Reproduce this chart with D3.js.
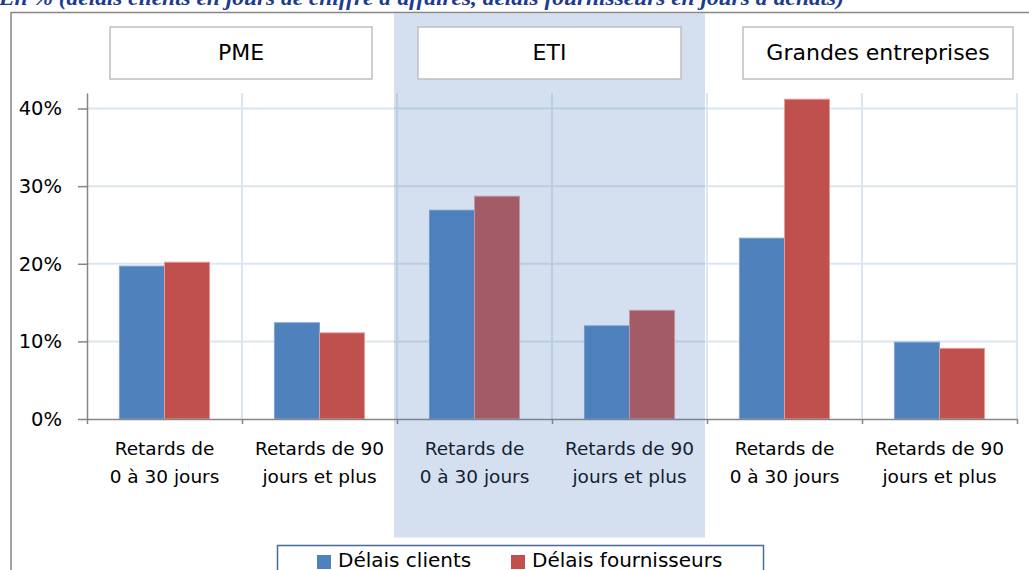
<!DOCTYPE html>
<html>
<head>
<meta charset="utf-8">
<script src="https://cdn.jsdelivr.net/npm/d3@7"></script>
<style>
  body { margin: 0; background: #fff; }
  svg { display: block; }
  text { font-family: "DejaVu Sans", sans-serif; fill: #000; }
</style>
</head>
<body>
<svg id="chart" width="1029" height="570"></svg>
<script>
// data (in %)
let categories = ['c1', 'c2', 'c3', 'c4', 'c5', 'c6'];
let tickLabels = [
  ['Retards de', '0 à 30 jours'],
  ['Retards de 90', 'jours et plus'],
  ['Retards de', '0 à 30 jours'],
  ['Retards de 90', 'jours et plus'],
  ['Retards de', '0 à 30 jours'],
  ['Retards de 90', 'jours et plus']
];
let groups = ['PME', 'ETI', 'Grandes entreprises'];
let seriesNames = ['Délais clients', 'Délais fournisseurs'];
let clients = [19.7, 12.4, 26.9, 12.0, 23.3, 9.9];
let fournisseurs = [20.2, 11.1, 28.7, 14.0, 41.2, 9.1];
let yTicks = [0, 10, 20, 30, 40];
let title = "En % (délais clients en jours de chiffre d'affaires, délais fournisseurs en jours d'achats)";

let colors = { 'Délais clients': '#4f81bd', 'Délais fournisseurs': '#c0504d' };
let strokes = { 'Délais clients': '#7ea3d3', 'Délais fournisseurs': '#e39c9a' };

let svg = d3.select('#chart');
let plot = { left: 87, right: 1017, top: 93, bottom: 419 };

let x = d3.scaleBand().domain(categories).range([plot.left, plot.right]).paddingInner(0).paddingOuter(0);
let xs = d3.scaleBand().domain(seriesNames).range([0, x.bandwidth()]).paddingInner(0).paddingOuter(0.72);
let xEdge = d3.scaleLinear().domain([0, categories.length]).range([plot.left, plot.right]);
let y = d3.scaleLinear().domain([0, 42]).range([plot.bottom, plot.top]);

// title, cut at the top edge
svg.append('text').attr('x', -1).attr('y', 5)
  .attr('textLength', 845).attr('lengthAdjust', 'spacingAndGlyphs')
  .style('font-family', '"Liberation Serif", serif')
  .style('font-style', 'italic').style('font-weight', 'bold')
  .style('font-size', '20px').style('fill', '#203a8f')
  .text(title);

// outer frame
svg.append('line').attr('x1', 11).attr('x2', 1029).attr('y1', 12.5).attr('y2', 12.5)
  .attr('stroke', '#868686').attr('stroke-width', 1.5);
svg.append('line').attr('x1', 11).attr('x2', 11).attr('y1', 12).attr('y2', 570)
  .attr('stroke', '#868686').attr('stroke-width', 1.5);

// gridlines
svg.append('g').selectAll('line').data(yTicks.filter(d => d > 0)).join('line')
  .attr('x1', plot.left).attr('x2', plot.right)
  .attr('y1', d => y(d)).attr('y2', d => y(d))
  .attr('stroke', '#dce6f2').attr('stroke-width', 2);
svg.append('g').selectAll('line').data(d3.range(1, categories.length + 1)).join('line')
  .attr('x1', d => xEdge(d)).attr('x2', d => xEdge(d))
  .attr('y1', plot.top).attr('y2', plot.bottom)
  .attr('stroke', '#dce6f2').attr('stroke-width', 2);

// bars
let rows = categories.map((c, i) => ({ cat: c, values: [
  { name: seriesNames[0], v: clients[i] },
  { name: seriesNames[1], v: fournisseurs[i] }
] }));

let cat_g = svg.append('g').selectAll('g').data(rows).join('g')
  .attr('transform', d => 'translate(' + x(d.cat) + ',0)');
cat_g.selectAll('rect').data(d => d.values).join('rect')
  .attr('x', d => xs(d.name)).attr('width', xs.bandwidth())
  .attr('y', d => y(d.v)).attr('height', d => y(0) - y(d.v))
  .attr('fill', d => colors[d.name])
  .attr('stroke', d => strokes[d.name]).attr('stroke-width', 1);

// y axis
let yAxis = svg.append('g').attr('transform', 'translate(' + plot.left + ',0)')
  .call(d3.axisLeft(y).tickValues(yTicks).tickFormat(d => d + '%').tickSize(9).tickSizeOuter(0).tickPadding(16));
yAxis.select('.domain').attr('stroke', '#868686').attr('stroke-width', 1.5);
yAxis.selectAll('.tick line').attr('stroke', '#868686').attr('stroke-width', 1.5);
yAxis.selectAll('.tick text').style('font-size', '19.5px').style('font-family', '"DejaVu Sans", sans-serif').attr('fill', '#000');

// x axis (ticks on category edges)
let xAxis = svg.append('g').attr('transform', 'translate(0,' + plot.bottom + ')')
  .call(d3.axisBottom(xEdge).tickValues(d3.range(0, categories.length + 1)).tickFormat('').tickSize(5).tickSizeOuter(0));
xAxis.select('.domain').attr('stroke', '#868686').attr('stroke-width', 1.5);
xAxis.selectAll('.tick line').attr('stroke', '#868686').attr('stroke-width', 1.5);

let xl = svg.append('g').selectAll('text').data(categories).join('text')
  .attr('x', d => x(d) + x.bandwidth() / 2)
  .attr('y', 455)
  .attr('text-anchor', 'middle')
  .style('font-size', '18.5px');
xl.append('tspan').attr('x', d => x(d) + x.bandwidth() / 2).text((d, i) => tickLabels[i][0]);
xl.append('tspan').attr('x', d => x(d) + x.bandwidth() / 2).attr('dy', 28).text((d, i) => tickLabels[i][1]);

// ETI highlight band
svg.append('rect')
  .attr('x', x(categories[2]) - 3).attr('width', 2 * x.bandwidth() + 1)
  .attr('y', 13.5).attr('height', 524)
  .attr('fill', '#4f81bd').attr('fill-opacity', 0.245);

// group header boxes
let headerBox = [
  { x0: 110, x1: 372 },
  { x0: 418, x1: 681 },
  { x0: 743, x1: 1013 }
];
let hdr = svg.append('g').selectAll('g').data(groups).join('g');
hdr.append('rect')
  .attr('x', (d, i) => headerBox[i].x0).attr('width', (d, i) => headerBox[i].x1 - headerBox[i].x0)
  .attr('y', 27).attr('height', 52)
  .attr('fill', '#fff').attr('stroke', '#bfbfbf').attr('stroke-width', 1.5);
hdr.append('text')
  .attr('x', (d, i) => (headerBox[i].x0 + headerBox[i].x1) / 2)
  .attr('y', 60).attr('text-anchor', 'middle')
  .style('font-size', '22px')
  .text(d => d);

// legend
let lg = svg.append('g');
lg.append('rect').attr('x', 277.5).attr('y', 545.5).attr('width', 486).attr('height', 40)
  .attr('fill', '#fff').attr('stroke', '#4a6a96').attr('stroke-width', 1.5);
let lgPos = [317, 511];
let item = lg.selectAll('g').data(seriesNames).join('g')
  .attr('transform', (d, i) => 'translate(' + lgPos[i] + ',0)');
item.append('rect').attr('x', 0).attr('y', 555).attr('width', 14).attr('height', 14)
  .attr('fill', d => colors[d]);
item.append('text').attr('x', 21).attr('y', 567)
  .style('font-size', '20px').text(d => d);
</script>
</body>
</html>
